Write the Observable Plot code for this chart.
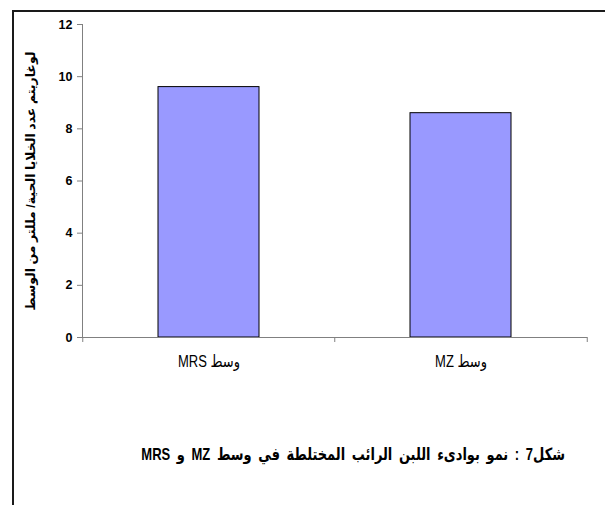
<!DOCTYPE html>
<html>
<head>
<meta charset="utf-8">
<script src="https://cdn.jsdelivr.net/npm/d3@7"></script>
<script src="https://cdn.jsdelivr.net/npm/@observablehq/plot@0.6"></script>
<style>
  html, body { margin: 0; padding: 0; background: #fff; }
  #wrap { position: relative; width: 605px; height: 505px; overflow: hidden; font-family: "Liberation Sans", Arial, "DejaVu Sans", sans-serif; }
  #frame { position: absolute; left: 12px; top: 10px; width: 600px; height: 500px; border-left: 2px solid #1a1a1a; border-top: 2px solid #1a1a1a; }
  #chart { position: absolute; left: 0; top: 0; }
  #caption { position: absolute; right: 40px; top: 447px; direction: rtl; font-weight: bold; font-size: 13px; word-spacing: 3px; color: #000; white-space: nowrap; transform: scaleY(1.3); transform-origin: 50% 50%; }
</style>
</head>
<body>
<div id="wrap">
  <div id="frame"></div>
  <div id="chart"></div>
  <div id="caption"></div>
</div>
<script>
const categories = ["وسط MRS", "وسط MZ"];
const values = [9.6, 8.6];
const yTicks = [0, 2, 4, 6, 8, 10, 12];
const yLabel = "لوغاريتم عدد الخلايا الحية/ مللتر من الوسط";
const captionText = "شكل7 : نمو بوادىء اللبن الرائب المختلطة في وسط MZ و MRS";

const data = categories.map((c, i) => ({category: c, value: values[i]}));

const W = 605, H = 380, mL = 82, mR = 18, mT = 24, mB = 43;
const step = (W - mL - mR) / categories.length;

const chart = Plot.plot({
  width: W,
  height: H,
  marginLeft: mL,
  marginRight: mR,
  marginTop: mT,
  marginBottom: mB,
  style: {fontFamily: '"Liberation Sans", Arial, "DejaVu Sans", sans-serif', color: "#000", background: "transparent"},
  x: {domain: categories, paddingInner: 0.6, paddingOuter: 0.3},
  y: {domain: [0, 12]},
  marks: [
    Plot.barY(data, {x: "category", y: "value", fill: "#9999ff", stroke: "#000", strokeWidth: 1}),
    Plot.ruleY([0], {stroke: "#808080", strokeWidth: 1}),
    Plot.frame({anchor: "left", stroke: "#808080", strokeWidth: 1}),
    Plot.axisY({ticks: yTicks, tickSize: 5, tickPadding: 5, stroke: "#808080", fill: "#000",
      fontSize: 12.5, fontWeight: "bold", tickFormat: d3.format("d"),
      label: yLabel, labelAnchor: "center", labelOffset: 56, labelArrow: false}),
    Plot.axisX({tickSize: 0, tickPadding: 17, fontSize: 13, fill: "#000", label: null}),
    Plot.axisX({tickSize: 5, text: null, dx: -step / 2, stroke: "#808080", label: null}),
    Plot.axisX({ticks: [categories[categories.length - 1]], tickSize: 5, text: null, dx: step / 2, stroke: "#808080", label: null})
  ]
});
// Arabic texts: right-to-left base direction; category labels slightly tall like the original
chart.querySelectorAll("text").forEach(t => {
  if (/[\u0600-\u06FF]/.test(t.textContent)) {
    t.setAttribute("direction", "rtl");
    t.style.direction = "rtl";
  }
  if (categories.includes(t.textContent)) {
    const tr = t.getAttribute("transform") || "";
    t.setAttribute("transform", tr + " scale(1,1.3)");
  }
});
document.getElementById("chart").appendChild(chart);
document.getElementById("caption").textContent = captionText;
</script>
</body>
</html>
